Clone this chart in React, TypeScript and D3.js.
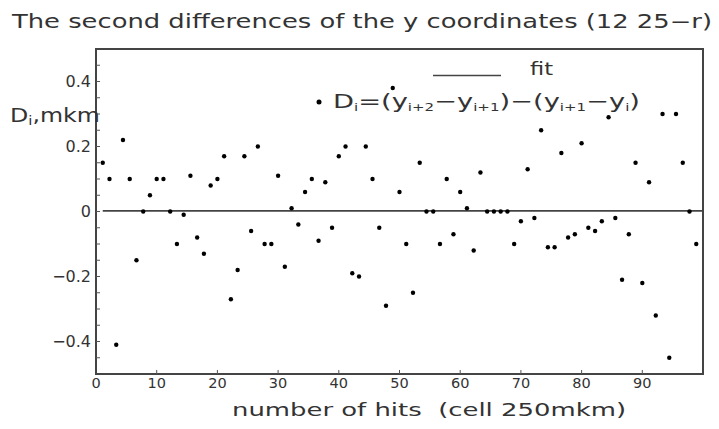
import React from "react";
import * as d3 from "d3";

// Second differences D_i for hits i = 1..89
const diffValues: number[] = [
  0.15, 0.10, -0.41, 0.22, 0.10, -0.15, 0.00, 0.05, 0.10, 0.10,
  0.00, -0.10, -0.01, 0.11, -0.08, -0.13, 0.08, 0.10, 0.17, -0.27,
  -0.18, 0.17, -0.06, 0.20, -0.10, -0.10, 0.11, -0.17, 0.01, -0.04,
  0.06, 0.10, -0.09, 0.09, -0.05, 0.17, 0.20, -0.19, -0.20, 0.20,
  0.10, -0.05, -0.29, 0.38, 0.06, -0.10, -0.25, 0.15, 0.00, 0.00,
  -0.10, 0.10, -0.07, 0.06, 0.01, -0.12, 0.12, 0.00, 0.00, 0.00,
  0.00, -0.10, -0.03, 0.13, -0.02, 0.25, -0.11, -0.11, 0.18, -0.08,
  -0.07, 0.21, -0.05, -0.06, -0.03, 0.29, -0.02, -0.21, -0.07, 0.15,
  -0.22, 0.09, -0.32, 0.30, -0.45, 0.30, 0.15, 0.00, -0.10,
];
// linear fit (essentially flat)
const fitStart: [number, number] = [1, 0.002];
const fitEnd: [number, number] = [90, 0.002];

const xTickLabels: number[] = [0, 10, 20, 30, 40, 50, 60, 70, 80, 90];
const yTickLabels: number[] = [0.4, 0.2, 0, -0.2, -0.4];

const W = 719;
const H = 429;
const L = 96, R = 703, T = 49, B = 374;
const FONT = "'DejaVu Sans', sans-serif";
const INK = "#333";

export default function App() {
  const xAxis = d3.scaleLinear().domain([0, 100]).range([L, R]);
  const xData = d3.scaleLinear().domain([0, 90]).range([L, R]);
  const y = d3.scaleLinear().domain([-0.5, 0.5]).range([B, T]);
  const minorY = d3.range(-0.45, 0.5, 0.05);
  const fmt = (v: number) => (v === 0 ? "0" : (v < 0 ? "\u2212" : "") + Math.abs(v).toFixed(1));
  const fitLine = d3.line<[number, number]>().x((d) => xData(d[0])).y((d) => y(d[1]));

  return (
    <svg width={W} height={H} style={{ position: "absolute", left: 0, top: 0, background: "#fff" }}>
      <rect x={0} y={0} width={W} height={H} fill="#fff" />
      <text x={12} y={28} fontFamily={FONT} fontSize={19} fill={INK} textLength={700} lengthAdjust="spacingAndGlyphs">
        The second differences of the y coordinates (12 25−r)
      </text>

      {/* frame */}
      <rect x={L} y={T} width={R - L} height={B - T} fill="none" stroke="#444" strokeWidth={2} />

      {/* y ticks */}
      {minorY.map((v, i) => (
        <line key={"ym" + i} x1={L} x2={L + 4} y1={y(v)} y2={y(v)} stroke="#555" strokeWidth={1} />
      ))}
      {yTickLabels.map((v) => (
        <text key={"yl" + v} x={91} y={y(v)} dy="0.36em" textAnchor="end" fontFamily={FONT} fontSize={16} fill={INK}>
          {fmt(v)}
        </text>
      ))}
      {/* x ticks */}
      {xTickLabels.map((v) => (
        <g key={"xt" + v}>
          {v > 0 && <line x1={xAxis(v)} x2={xAxis(v)} y1={B} y2={B - 4} stroke="#555" strokeWidth={1} />}
          <text x={xAxis(v)} y={388} textAnchor="middle" fontFamily={FONT} fontSize={14.5} fill={INK}>
            {v}
          </text>
        </g>
      ))}

      {/* y label */}
      <text x={10} y={122} fontFamily={FONT} fontSize={19} fill={INK} textLength={90} lengthAdjust="spacingAndGlyphs">
        D<tspan fontSize={12} dy={3}>i</tspan>
        <tspan dy={-3}>,mkm</tspan>
      </text>

      {/* x label */}
      <text x={232} y={416} fontFamily={FONT} fontSize={18} fill={INK} xmlSpace="preserve" textLength={394} lengthAdjust="spacingAndGlyphs">
        number of hits  (cell 250mkm)
      </text>

      {/* fit line */}
      <path d={fitLine([fitStart, fitEnd]) || ""} stroke="#444" strokeWidth={1.6} fill="none" />

      {/* points */}
      {diffValues.map((v, i) => (
        <circle key={"p" + i} cx={xData(i + 1)} cy={y(v)} r={2.2} fill="#000" />
      ))}

      {/* legend */}
      <line x1={433} x2={501} y1={75.5} y2={75.5} stroke="#444" strokeWidth={1.6} />
      <text x={530} y={75} fontFamily={FONT} fontSize={17} fill={INK} textLength={23} lengthAdjust="spacingAndGlyphs">fit</text>
      <circle cx={319} cy={102} r={2.5} fill="#000" />
      <text x={333} y={108} fontFamily={FONT} fontSize={20} fill={INK} textLength={307} lengthAdjust="spacingAndGlyphs">
        D<tspan fontSize={11} dy={3}>i</tspan>
        <tspan dy={-3}>=(y</tspan>
        <tspan fontSize={11} dy={3}>i+2</tspan>
        <tspan dy={-3}>−y</tspan>
        <tspan fontSize={11} dy={3}>i+1</tspan>
        <tspan dy={-3}>)−(y</tspan>
        <tspan fontSize={11} dy={3}>i+1</tspan>
        <tspan dy={-3}>−y</tspan>
        <tspan fontSize={11} dy={3}>i</tspan>
        <tspan dy={-3}>)</tspan>
      </text>
    </svg>
  );
}
